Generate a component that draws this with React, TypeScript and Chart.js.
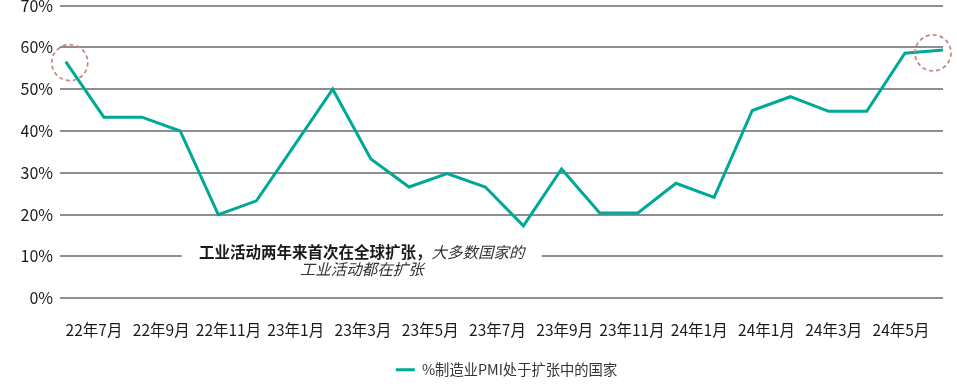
import { useEffect, useRef } from 'react';
import { Chart, registerables } from 'chart.js';

Chart.register(...registerables);

// Months covered by the series (July 2022 – June 2024)
const months = [
  '2022-07', '2022-08', '2022-09', '2022-10', '2022-11', '2022-12',
  '2023-01', '2023-02', '2023-03', '2023-04', '2023-05', '2023-06',
  '2023-07', '2023-08', '2023-09', '2023-10', '2023-11', '2023-12',
  '2024-01', '2024-02', '2024-03', '2024-04', '2024-05', '2024-06',
];

// % of countries with manufacturing PMI in expansion
const expandingShare = [
  56.6, 43.3, 43.3, 40.0, 20.0, 23.3,
  36.6, 50.0, 33.3, 26.6, 29.8, 26.6,
  17.3, 30.9, 20.4, 20.4, 27.5, 24.1,
  44.9, 48.2, 44.7, 44.7, 58.6, 59.4,
];

// Tick labels printed under the chart (as in the source, incl. the repeated one)
const axisLabels = [
  '22年7月', '22年9月', '22年11月', '23年1月', '23年3月', '23年5月', '23年7月',
  '23年9月', '23年11月', '24年1月', '24年1月', '24年3月', '24年5月',
];

const yTickValues = [0, 10, 20, 30, 40, 50, 60, 70];

const seriesLabel = '%制造业PMI处于扩张中的国家';
const noteBold = '工业活动两年来首次在全球扩张，';
const noteItalicA = '大多数国家的';
const noteItalicB = '工业活动都在扩张';

// annotation anchor, in data units
const noteAt = { x: 7.76, y: 11.1 };
// highlighted points (dashed circles)
const highlighted = [0, 23];

const FONT = '"Noto Sans CJK SC", "Noto Sans", sans-serif';
const TEAL = '#00a896';

const notePlugin = {
  id: 'notePlugin',
  afterDatasetsDraw(chart: any) {
    const { ctx, scales } = chart;
    const cx = scales.x.getPixelForValue(noteAt.x);
    const cy = scales.y.getPixelForValue(noteAt.y);
    ctx.save();
    ctx.fillStyle = '#ffffff';
    ctx.fillRect(cx - 180, cy - 10, 360, 38);
    ctx.textBaseline = 'middle';
    ctx.textAlign = 'left';
    const boldFont = `700 15.5px ${FONT}`;
    const italFont = `italic 400 15.5px ${FONT}`;
    ctx.font = boldFont;
    const wb = ctx.measureText(noteBold).width;
    ctx.font = italFont;
    const wi = ctx.measureText(noteItalicA).width;
    const x0 = cx - (wb + wi) / 2;
    ctx.font = boldFont;
    ctx.fillStyle = '#1a1a1a';
    ctx.fillText(noteBold, x0, cy);
    ctx.font = italFont;
    ctx.fillStyle = '#333333';
    ctx.fillText(noteItalicA, x0 + wb, cy);
    ctx.textAlign = 'center';
    ctx.fillText(noteItalicB, cx, cy + 17);
    ctx.restore();
  },
};

const circlePlugin = {
  id: 'circlePlugin',
  afterDatasetsDraw(chart: any) {
    const { ctx } = chart;
    const meta = chart.getDatasetMeta(0);
    const n = meta.data.length;
    ctx.save();
    ctx.strokeStyle = '#c8847e';
    ctx.lineWidth = 1.7;
    ctx.setLineDash([4, 3]);
    highlighted.forEach((idx) => {
      const p = meta.data[idx];
      if (!p) return;
      const dx = idx === 0 ? 4 : idx === n - 1 ? -10 : 0;
      const dy = idx === 0 ? 1 : 3;
      ctx.beginPath();
      ctx.arc(p.x + dx, p.y + dy, 18, 0, Math.PI * 2);
      ctx.stroke();
    });
    ctx.restore();
  },
};

const legendShift = {
  id: 'legendShift',
  afterLayout(chart: any) {
    if (chart.legend) {
      chart.legend.left += 5;
      chart.legend.right += 5;
    }
  },
};

export default function App() {
  const ref = useRef<HTMLCanvasElement | null>(null);

  useEffect(() => {
    if (!ref.current) return;
    const chart = new Chart(ref.current, {
      type: 'line',
      data: {
        datasets: [
          {
            label: seriesLabel,
            data: expandingShare.map((v, i) => ({ x: i, y: v, m: months[i] })) as any,
            borderColor: TEAL,
            backgroundColor: TEAL,
            borderWidth: 3,
            pointRadius: 0,
            tension: 0,
            xAxisID: 'x',
            yAxisID: 'y',
          },
        ],
      },
      options: {
        animation: false,
        responsive: true,
        maintainAspectRatio: false,
        layout: { padding: { top: 0, right: 14, bottom: 1, left: 0 } },
        scales: {
          x: { type: 'linear', min: -0.15, max: 23, display: false },
          xl: {
            type: 'linear',
            position: 'bottom',
            min: -0.506,
            max: 12.625,
            grid: { display: false },
            border: { display: false },
            afterBuildTicks: (axis: any) => {
              axis.ticks = axisLabels.map((_, i) => ({ value: i }));
            },
            afterFit: (axis: any) => {
              axis.height = 54.5;
            },
            ticks: {
              autoSkip: false,
              maxRotation: 0,
              padding: 15,
              color: '#1a1a1a',
              font: { family: FONT, size: 15.5 },
              callback: (v: any) => axisLabels[v] ?? '',
            },
          },
          y: {
            type: 'linear',
            min: 0,
            max: 70,
            afterFit: (axis: any) => {
              axis.width = 60;
            },
            afterBuildTicks: (axis: any) => {
              axis.ticks = yTickValues.map((v) => ({ value: v }));
            },
            grid: {
              color: '#8e8d92',
              lineWidth: 2,
              drawTicks: true,
              tickLength: 7,
              tickColor: 'rgba(0,0,0,0)',
            },
            border: { display: false },
            ticks: {
              padding: 0,
              color: '#1a1a1a',
              font: { family: FONT, size: 16, lineHeight: 0.7 },
              callback: (v: any) => `${v}%`,
            },
          },
        } as any,
        plugins: {
          legend: {
            position: 'bottom',
            fullSize: false,
            labels: {
              usePointStyle: true,
              pointStyle: 'line',
              pointStyleWidth: 19,
              padding: 10,
              color: '#333333',
              font: { family: FONT, size: 14.3 },
            },
          } as any,
          tooltip: { enabled: false },
        },
      },
      plugins: [notePlugin, circlePlugin, legendShift],
    });
    return () => chart.destroy();
  }, []);

  return (
    <div style={{ position: 'absolute', left: 0, top: 0, width: 957, height: 388 }}>
      <canvas ref={ref} />
    </div>
  );
}
